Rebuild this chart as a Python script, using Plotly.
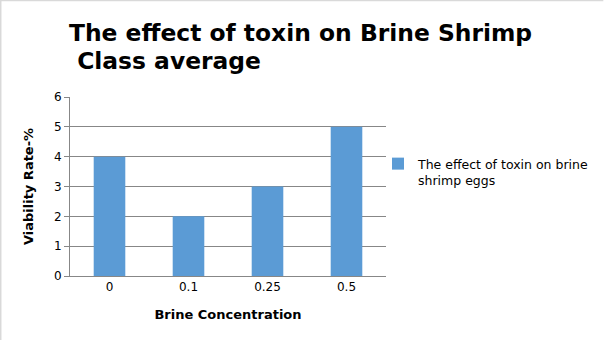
import plotly.graph_objects as go

categories = ["0", "0.1", "0.25", "0.5"]
values = [4, 2, 3, 5]
series_name = "The effect of toxin on brine<br>shrimp eggs"
title_line1 = "The effect of toxin on Brine Shrimp"
title_line2 = " Class average"
x_title = "Brine Concentration"
y_title = "Viability Rate-%"

W, H = 605, 340
L, R, T, B = 70, 218, 97, 64
pw, ph = W - L - R, H - T - B

def px(x):
    return (x - L) / pw

def py(y):
    return 1 - (y - T) / ph

fig = go.Figure()
fig.add_trace(go.Bar(x=categories, y=values, name=series_name,
                     marker=dict(color="#5B9BD5", line=dict(width=0))))

grid = "#878787"
fig.update_layout(
    width=W, height=H,
    margin=dict(l=L, r=R, t=T, b=B),
    paper_bgcolor="white", plot_bgcolor="white",
    font=dict(family="DejaVu Sans", size=12, color="#000000"),
    bargap=0.6,
    showlegend=True,
    legend=dict(x=px(378), y=py(149), xanchor="left", yanchor="top",
                font=dict(family="DejaVu Sans", size=12.5, color="#000000"),
                itemwidth=30, tracegroupgap=0, bgcolor="rgba(0,0,0,0)",
                valign="top", borderwidth=0),
    xaxis=dict(type="category", showline=True, linecolor=grid, linewidth=1,
               showgrid=False, ticks="", tickfont=dict(size=12),
               title=dict(text="<b>" + x_title + "</b>", font=dict(size=13), standoff=16)),
    yaxis=dict(range=[0, 6], dtick=1, showline=True, linecolor=grid, linewidth=1,
               showgrid=True, gridcolor=grid, gridwidth=1,
               ticks="outside", ticklen=5, tickcolor=grid, tickfont=dict(size=12),
               zeroline=False,
               title=dict(text="<b>" + y_title + "</b>", font=dict(size=13), standoff=17)),
    annotations=[
        dict(text="<b>" + title_line1 + "</b>", x=px(67), y=py(49), xref="paper", yref="paper",
             xanchor="left", yanchor="bottom", showarrow=False,
             font=dict(family="DejaVu Sans", size=23.4, color="#000000")),
        dict(text="<b>" + title_line2 + "</b>", x=px(67), y=py(77), xref="paper", yref="paper",
             xanchor="left", yanchor="bottom", showarrow=False,
             font=dict(family="DejaVu Sans", size=23.4, color="#000000")),
    ],
    shapes=[
        dict(type="line", xref="paper", yref="paper", x0=px(0.5), x1=px(0.5), y0=py(0), y1=py(H),
             line=dict(color="#d9d9d9", width=1.5)),
        dict(type="line", xref="paper", yref="paper", x0=px(0), x1=px(W), y0=py(0.5), y1=py(0.5),
             line=dict(color="#d9d9d9", width=1.5)),
    ],
)

fig.write_html("out.html")
